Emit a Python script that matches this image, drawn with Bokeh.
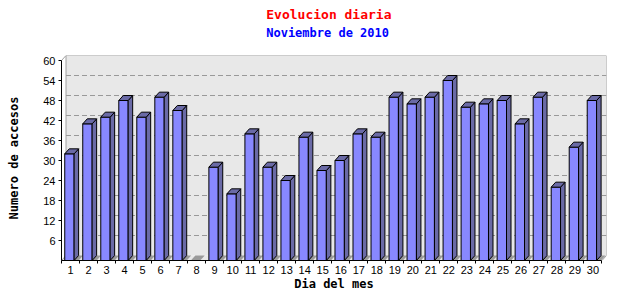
import numpy as np
from bokeh.plotting import figure
from bokeh.layouts import column
from bokeh.models import Range1d, FixedTicker
from bokeh.core.properties import value
from bokeh.embed import file_html
from bokeh.resources import INLINE

# ---- data ----
days = list(range(1, 31))
accesses = [32, 41, 43, 48, 43, 49, 45, 0, 28, 20, 38, 28, 24, 37, 27,
            30, 38, 37, 49, 47, 49, 54, 46, 47, 48, 41, 49, 22, 34, 48]
y_ticks = [6, 12, 18, 24, 30, 36, 42, 48, 54, 60]
title_text = "Evolucion diaria"
subtitle_text = "Noviembre de 2010"
x_title = "Dia del mes"
y_title = "Numero de accesos"

# ---- geometry (in data units) ----
DX = 0.25          # 3D depth along x
DY = 1.5           # 3D depth along y
YMAX = 60
X0, X1 = 0.5, 30.5
BL, BR = -0.32, 0.20   # bar front face offsets from the category centre

FRONT = "#8888FF"
SIDE = "#6A6AA6"
WALL = "#E8E8E8"
WALL_LINE = "#A0A0A0"
GRID = "#999999"
FLOOR = "#9A9A9A"
MONO = "DejaVu Sans Mono"

TOP_H = 48

# ---- title strip ----
t = figure(width=640, height=TOP_H, x_range=Range1d(0, 640), y_range=Range1d(0, TOP_H),
           output_backend="svg", toolbar_location=None, title=None,
           x_axis_location=None, y_axis_location=None,
           min_border_left=0, min_border_right=0, min_border_top=0, min_border_bottom=0)
t.outline_line_color = None
t.xgrid.visible = False
t.ygrid.visible = False
t.background_fill_color = "white"
t.border_fill_color = "white"
t.text(x=[314], y=[TOP_H - 14], text=[title_text], text_color="red",
       text_font=value(MONO), text_font_style="bold", text_font_size="13px",
       text_align="center", text_baseline="middle")
t.text(x=[312.5], y=[TOP_H - 32], text=[subtitle_text], text_color="blue",
       text_font=value(MONO), text_font_style="bold", text_font_size="12px",
       text_align="center", text_baseline="middle")

# ---- main chart ----
p = figure(width=640, height=300 - TOP_H, title=None,
           x_range=Range1d(X0, X1 + DX), y_range=Range1d(0, YMAX + DY),
           output_backend="svg", toolbar_location=None,
           min_border_left=61, min_border_right=34,
           min_border_top=55 - TOP_H, min_border_bottom=40)
p.background_fill_color = "white"
p.border_fill_color = "white"
p.outline_line_color = None
p.xgrid.visible = False
p.ygrid.visible = False

# back wall and floor
p.quad(left=[X0 + DX], right=[X1 + DX], bottom=[DY], top=[YMAX + DY],
       fill_color=WALL, line_color=None)
p.patch([X0, X1, X1 + DX, X0 + DX], [0, 0, DY, DY],
        fill_color=WALL, line_color=None)
p.line([X0, X0 + DX, X0 + DX, X1 + DX, X1 + DX, X1],
       [0, DY, YMAX + DY, YMAX + DY, DY, 0], line_color=WALL_LINE, line_width=1)
p.line([X0, X0 + DX], [YMAX, YMAX + DY], line_color=WALL_LINE, line_width=1)

# dashed grid on the back wall
p.multi_line(xs=[[X0 + DX, X1 + DX] for _ in y_ticks[:-1]],
             ys=[[v + DY, v + DY] for v in y_ticks[:-1]],
             line_color=GRID, line_dash="5 3", line_width=1)

# bars
fl = [d + BL for d in days]
fr = [d + BR for d in days]
floor_xs, floor_ys = [], []
for l, r, v in zip(fl, fr, accesses):
    e = DX if v > 0 else 0
    floor_xs.append([l, r + e, r + e + DX, l + DX])
    floor_ys.append([0, 0, DY, DY])
p.patches(floor_xs, floor_ys, fill_color=FLOOR, line_color=None)

nz = [i for i, v in enumerate(accesses) if v > 0]
p.quad(left=[fl[i] for i in nz], right=[fr[i] for i in nz],
       bottom=0, top=[accesses[i] for i in nz],
       fill_color=FRONT, line_color="black", line_width=1)
side_xs = [[fr[i], fr[i] + DX, fr[i] + DX, fr[i]] for i in nz]
side_ys = [[0, DY, accesses[i] + DY, accesses[i]] for i in nz]
top_xs = [[fl[i], fr[i], fr[i] + DX, fl[i] + DX] for i in nz]
top_ys = [[accesses[i], accesses[i], accesses[i] + DY, accesses[i] + DY] for i in nz]
p.patches(side_xs, side_ys, fill_color=SIDE, line_color="black", line_width=1)
p.patches(top_xs, top_ys, fill_color=SIDE, line_color="black", line_width=1)

# axes
xa = p.xaxis[0]
xa.ticker = FixedTicker(ticks=days, minor_ticks=[X0 + k for k in range(31)])
xa.bounds = (X0, X1)
xa.major_tick_out = 0
xa.major_tick_in = 0
xa.minor_tick_out = 3
xa.minor_tick_in = 0
xa.minor_tick_line_color = "black"
xa.axis_line_color = "black"
xa.major_label_standoff = 2
xa.major_label_text_font = "Liberation Sans"
xa.major_label_text_font_size = "11px"
xa.major_label_text_color = "black"
xa.axis_label = x_title
xa.axis_label_standoff = 0
xa.axis_label_text_font = MONO
xa.axis_label_text_font_style = "bold"
xa.axis_label_text_font_size = "12px"
xa.axis_label_text_color = "black"

ya = p.yaxis[0]
ya.ticker = FixedTicker(ticks=y_ticks, minor_ticks=[])
ya.bounds = (0, YMAX)
ya.major_tick_out = 3
ya.major_tick_in = 0
ya.minor_tick_out = 0
ya.minor_tick_in = 0
ya.axis_line_color = "black"
ya.major_label_standoff = 3
ya.major_label_text_font = "Liberation Sans"
ya.major_label_text_font_size = "11px"
ya.major_label_text_color = "black"
ya.axis_label = y_title
ya.axis_label_standoff = 19
ya.axis_label_text_font = MONO
ya.axis_label_text_font_style = "bold"
ya.axis_label_text_font_size = "12px"
ya.axis_label_text_color = "black"

layout = column(t, p, spacing=0)
open("out.html", "w").write(file_html(layout, INLINE))
